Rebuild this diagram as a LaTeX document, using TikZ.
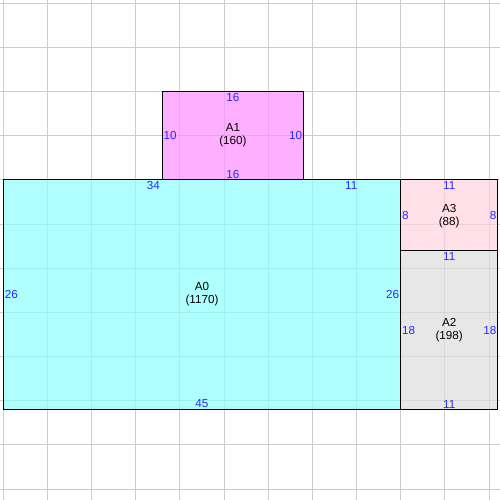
\documentclass[tikz,border=0pt]{standalone}
\usepackage{fontspec}
\setmainfont{Liberation Sans}
\usepackage{tikz}
\definecolor{gridgray}{RGB}{204,204,204}
\definecolor{dimblue}{RGB}{40,40,255}
\definecolor{cyanfill}{RGB}{142,255,255}
\definecolor{pinkfill}{RGB}{255,142,255}
\definecolor{rosefill}{RGB}{255,211,225}
\definecolor{greyfill}{RGB}{222,222,222}

\begin{document}
\begin{tikzpicture}[x=0.25cm, y=-0.25cm,
    gridline/.style={gridgray, line width=0.7pt},
    room/.style={fill opacity=0.7},
    edge/.style={draw=black, line width=0.9pt},
    dim/.style={text=dimblue, inner sep=1pt, font=\fontsize{9.4}{10}\selectfont},
    tag/.style={align=center, inner sep=0pt, font=\fontsize{9.4}{10.5}\selectfont}]
    \useasboundingbox (-0.375,-0.375) rectangle (56.25,56.25);
    \fill[white] (-0.375,-0.375) rectangle (56.25,56.25);
    \foreach \k in {0,5,...,55} {
      \draw[gridline] (\k,-0.375) -- (\k,56.25);
      \draw[gridline] (-0.375,\k) -- (56.25,\k);
    }
    \fill[room, cyanfill] (0,20) rectangle (45,46);
    \fill[room, pinkfill] (18,10) rectangle (34,20);
    \fill[room, rosefill] (45,20) rectangle (56,28);
    \fill[room, greyfill] (45,28) rectangle (56,46);
    \draw[edge] (0,20) rectangle (45,46);
    \draw[edge] (18,10) rectangle (34,20);
    \draw[edge] (45,20) rectangle (56,28);
    \draw[edge] (45,28) rectangle (56,46);
    % A1
    \node[tag] (a1) at (26,14.9) {A1\\(160)};
    \node[dim, anchor=north] (a1top) at (26,10) {16};
    \node[dim, anchor=south] (a1bot) at (26,20) {16};
    \node[dim, anchor=west] (a1lft) at (18,15) {10};
    \node[dim, anchor=east] (a1rgt) at (34,15) {10};
    % A0
    \node[tag] (a0) at (22.5,32.9) {A0\\(1170)};
    \node[dim, anchor=north] (a0topa) at (17,20) {34};
    \node[dim, anchor=north] (a0topb) at (39.4,20) {11};
    \node[dim, anchor=west] (a0lft) at (0,33) {26};
    \node[dim, anchor=east] (a0rgt) at (45,33) {26};
    \node[dim, anchor=south] (a0bot) at (22.5,46) {45};
    % A3
    \node[tag] (a3) at (50.5,24.1) {A3\\(88)};
    \node[dim, anchor=west] (a3lft) at (45,24) {8};
    \node[dim, anchor=north] (a3top) at (50.5,20) {11};
    \node[dim, anchor=east] (a3rgt) at (56,24) {8};
    % A2
    \node[tag] (a2) at (50.5,37) {A2\\(198)};
    \node[dim, anchor=north] (a2top) at (50.5,28) {11};
    \node[dim, anchor=west] (a2lft) at (45,37) {18};
    \node[dim, anchor=east] (a2rgt) at (56,37) {18};
    \node[dim, anchor=south] (a2bot) at (50.5,46) {11};
\end{tikzpicture}
\end{document}
